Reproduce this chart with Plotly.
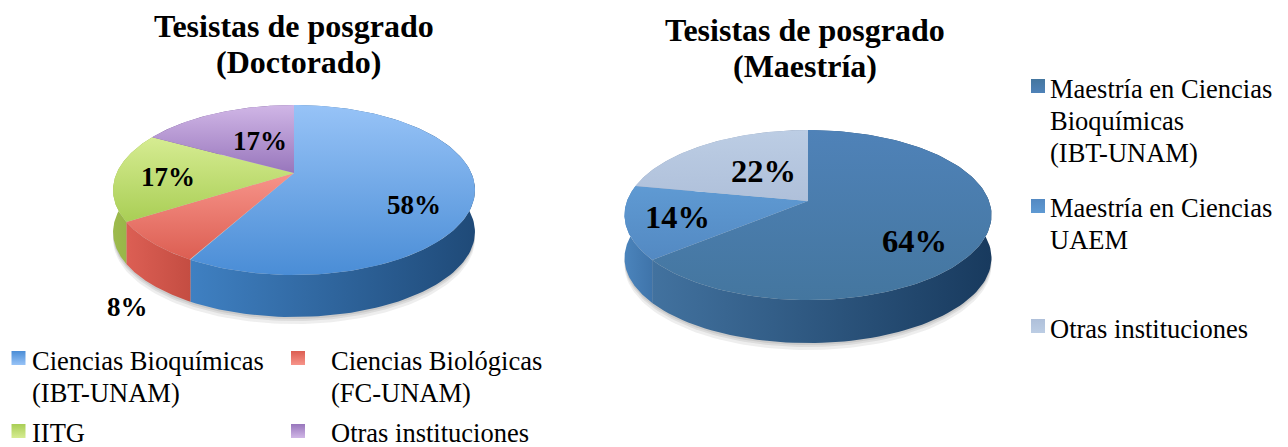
import numpy as np
import plotly.graph_objects as go

# ---- data ----
doc_categories = ["Ciencias Bioquímicas<br>(IBT-UNAM)", "Ciencias Biológicas<br>(FC-UNAM)", "IITG", "Otras instituciones"]
doc_values = [58, 8, 17, 17]
mae_categories = ["Maestría en Ciencias<br>Bioquímicas<br>(IBT-UNAM)", "Maestría en Ciencias<br>UAEM", "Otras instituciones"]
mae_values = [64, 14, 22]
doc_title = ["Tesistas de posgrado", "(Doctorado)"]
mae_title = ["Tesistas de posgrado", "(Maestría)"]

# ---- styles: (top light, top dark, side left, side right) ----
doc_colors = [("#97C3F7", "#4A8DD6", "#3F80C2", "#1F4A78"),
              ("#F7948A", "#DC5E52", "#DC5F54", "#C44D42"),
              ("#D6EC92", "#A9CE55", "#9DBB4C", "#8FAB42"),
              ("#D0B6E6", "#9876BC", "#7A5C9C", "#6A4E8A")]
mae_colors = [("#4F82B8", "#44769F", "#42729F", "#183A5E"),
              ("#5F9AD3", "#5389C2", "#4B84BC", "#3F74AA"),
              ("#BCCDE4", "#AFC0DA", "#9AAAC4", "#8A9AB4")]
doc_geom = dict(cx=294, ay=173, A=177.3, b=81.6, k=0.20, depth=42)
mae_geom = dict(cx=808, ay=201, A=181.0, b=82.7, k=0.165, depth=43)


def project(theta, r, g):
    """Perspective view of a point of the pie disc (clockwise from 12 o'clock)."""
    u, v = r * np.sin(theta), r * np.cos(theta)
    w = 1 + g["k"] * v
    return g["cx"] + g["A"] * u / w, g["ay"] - g["b"] * v / w


fig = go.Figure()


def poly(x, y, name, c0, c1, orient):
    fig.add_trace(go.Scatter(
        x=x, y=y, name=name, mode="lines", fill="toself", line=dict(width=0),
        fillgradient=dict(type=orient, colorscale=[[0, c0], [1, c1]]),
        hoverinfo="name", showlegend=False))


def pie3d(values, names, colors, g):
    vals = np.array(values, float)
    edges = np.concatenate([[0], np.cumsum(vals)]) / vals.sum() * 2 * np.pi
    # soft shadow under the disc
    t = np.linspace(0, 2 * np.pi, 240)
    sx, sy = project(t, 1, g)
    for grow, alpha in ((7, .10), (4, .12), (2, .14)):
        fig.add_trace(go.Scatter(x=sx, y=sy + g["depth"] + grow, mode="lines", fill="toself",
                                 line=dict(width=0), fillcolor=f"rgba(90,90,90,{alpha})",
                                 hoverinfo="skip", showlegend=False))
    # walls
    for i in range(len(vals)):
        t = np.linspace(edges[i], edges[i + 1], 120)
        x, y = project(t, 1, g)
        poly(np.r_[x, x[::-1]], np.r_[y, y[::-1] + g["depth"]], names[i],
             colors[i][2], colors[i][3], "horizontal")
    # tops
    for i in range(len(vals)):
        t = np.linspace(edges[i], edges[i + 1], 120)
        x, y = project(t, 1, g)
        ax, ay = project(np.array([0.0]), 0, g)
        poly(np.r_[ax, x, ax], np.r_[ay, y, ay], names[i],
             colors[i][1], colors[i][0], "vertical")


pie3d(doc_values, doc_categories, doc_colors, doc_geom)
pie3d(mae_values, mae_categories, mae_colors, mae_geom)

serif = "Liberation Serif"


def note(x, y, text, size, bold=False, anchor="center"):
    fig.add_annotation(x=x, y=y, text=f"<b>{text}</b>" if bold else text, showarrow=False,
                       xref="x", yref="y", xanchor=anchor, yanchor="middle", align=anchor,
                       font=dict(family=serif, size=size, color="#000"))


def lines(x, y0, text, size, step, bold=False, anchor="center"):
    for j, part in enumerate(text.split("<br>")):
        note(x, y0 + j * step, part, size, bold, anchor)


for text, (x, y) in zip(doc_title, [(294, 26), (298.5, 62)]):
    note(x, y, text, 32, True)
for text, (x, y) in zip(mae_title, [(805, 30), (805, 66)]):
    note(x, y, text, 32, True)

for (x, y), v in zip([(414, 205), (127, 307), (168, 177), (260, 141)], doc_values):
    note(x, y, f"{v}%", 27, True)
for (x, y), v in zip([(914, 241), (677, 217), (763, 171)], mae_values):
    note(x, y, f"{v}%", 32.5, True)

# legends: marker x, marker y, text x, first-line y
doc_leg = [(18.5, 358, 30, 361), (298, 358, 329, 361), (18.5, 431, 30, 433), (298, 431, 329, 433)]
mae_leg = [(1038, 86, 1048, 89), (1038, 206, 1048, 208), (1038, 326, 1048, 329)]
for cats, cols, leg in ((doc_categories, doc_colors, doc_leg), (mae_categories, mae_colors, mae_leg)):
    for name, c, (mx, my, tx, ty) in zip(cats, cols, leg):
        fig.add_trace(go.Scatter(x=[mx], y=[my], mode="markers", name=name, showlegend=False, hoverinfo="name",
                                 marker=dict(symbol="square", size=14, color=c[1], line=dict(width=0),
                                             gradient=dict(type="vertical", color=c[0]))))
        lines(tx, ty, name, 26.5, 32, anchor="left")

# the page has an 8 px body margin: the axes run in window pixels
fig.update_layout(
    width=1288, height=447, margin=dict(l=0, r=0, t=0, b=0),
    paper_bgcolor="white", plot_bgcolor="white", showlegend=False,
    xaxis=dict(range=[8, 1296], visible=False, fixedrange=True),
    yaxis=dict(range=[455, 8], visible=False, fixedrange=True),
)
fig.write_html("out.html", config=dict(displayModeBar=False))
